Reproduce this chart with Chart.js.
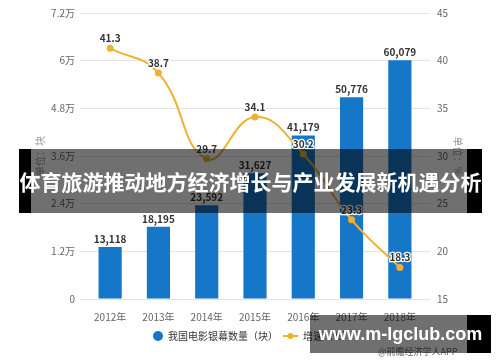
<!DOCTYPE html>
<html>
<head>
<meta charset="utf-8">
<script src="https://cdn.jsdelivr.net/npm/chart.js@4.4.0/dist/chart.umd.min.js"></script>
<style>
html, body { margin: 0; padding: 0; background: #fff; }
#wrap { position: relative; width: 500px; height: 362px; overflow: hidden; }
#chart { position: absolute; left: 0; top: 0; }
.banner { position: absolute; background: rgba(0, 0, 0, 0.56); }
.edge { position: absolute; background: #000; }
#title { left: 19px; top: 149px; width: 463px; height: 64px; color: #fff;
  font: bold 21px "Noto Sans CJK SC", sans-serif; line-height: 64px; text-align: center; white-space: nowrap; }
#site { left: 310px; top: 315px; width: 181px; height: 38px; color: #fff;
  font: bold 18px "Liberation Sans", Arial, sans-serif; line-height: 38px; text-align: center; white-space: nowrap; }
#credit { position: absolute; left: 378px; top: 345px; color: #666;
  font: 9px "Noto Sans CJK SC", sans-serif; white-space: nowrap; }
</style>
</head>
<body>
<div id="wrap">
  <canvas id="chart" width="500" height="362"></canvas>
  <div id="credit">@前瞻经济学人APP</div>
  <div class="edge" style="left:19px;top:149px;width:12px;height:64px"></div>
  <div class="edge" style="left:467px;top:149px;width:15px;height:64px"></div>
  <div class="banner" id="title">体育旅游推动地方经济增长与产业发展新机遇分析</div>
  <div class="edge" style="left:467px;top:315px;width:24px;height:38px"></div>
  <div class="banner" id="site">www.m-lgclub.com</div>
</div>
<script>
const years = ['2012年', '2013年', '2014年', '2015年', '2016年', '2017年', '2018年'];
const screens = [13118, 18195, 23592, 31627, 41179, 50776, 60079];
const growth = [41.3, 38.7, 29.7, 34.1, 30.2, 23.3, 18.3];
const leftTicks = ['0', '1.2万', '2.4万', '3.6万', '4.8万', '6万', '7.2万'];
const rightTicks = ['15', '20', '25', '30', '35', '40', '45'];

const BLUE = '#1677c8';
const GOLD = '#efb134';
const FONT = '"Noto Sans CJK SC", sans-serif';
const GRID = '#e3e3e3';

// value labels above bars and points
const valueLabels = {
    id: 'valueLabels',
    afterDatasetsDraw(chart) {
        const ctx = chart.ctx;
        ctx.save();
        ctx.textAlign = 'center';
        ctx.font = 'bold 10px ' + FONT;
        chart.getDatasetMeta(0).data.forEach((bar, i) => {
            ctx.fillStyle = '#333';
            ctx.textBaseline = 'bottom';
            ctx.fillText(screens[i].toLocaleString('en-US'), bar.x, bar.y - 3);
        });
        chart.getDatasetMeta(1).data.forEach((pt, i) => {
            ctx.textBaseline = 'middle';
            ctx.lineWidth = 2.5;
            ctx.strokeStyle = '#fff';
            ctx.strokeText(growth[i].toFixed(1), pt.x, pt.y - 10);
            ctx.fillStyle = '#333';
            ctx.fillText(growth[i].toFixed(1), pt.x, pt.y - 10);
        });
        ctx.restore();
    }
};

// legend drawn under the axis
const bottomLegend = {
    id: 'bottomLegend',
    afterDraw(chart) {
        const ctx = chart.ctx;
        const y = 336;
        ctx.save();
        ctx.font = '10px ' + FONT;
        ctx.textBaseline = 'middle';
        ctx.textAlign = 'left';
        ctx.fillStyle = BLUE;
        ctx.beginPath();
        ctx.arc(158, y, 5, 0, Math.PI * 2);
        ctx.fill();
        ctx.fillStyle = '#333';
        ctx.fillText(chart.data.datasets[0].label, 168, y);
        ctx.strokeStyle = GOLD;
        ctx.lineWidth = 2;
        ctx.beginPath();
        ctx.moveTo(283, y);
        ctx.lineTo(298, y);
        ctx.stroke();
        ctx.fillStyle = GOLD;
        ctx.beginPath();
        ctx.arc(290.5, y, 3, 0, Math.PI * 2);
        ctx.fill();
        ctx.fillStyle = '#333';
        ctx.fillText(chart.data.datasets[1].label, 303, y);
        ctx.restore();
    }
};

new Chart(document.getElementById('chart'), {
    type: 'bar',
    data: {
        labels: years,
        datasets: [{
            label: '我国电影银幕数量（块）',
            data: screens,
            backgroundColor: BLUE,
            yAxisID: 'y',
            categoryPercentage: 1,
            barPercentage: 0.48,
            order: 2
        }, {
            type: 'line',
            label: '增速（%）',
            data: growth,
            borderColor: GOLD,
            backgroundColor: GOLD,
            borderWidth: 2,
            pointRadius: 3.5,
            pointBackgroundColor: GOLD,
            pointBorderWidth: 0,
            tension: 0.45,
            yAxisID: 'y1',
            order: 1
        }]
    },
    options: {
        responsive: false,
        animation: false,
        layout: { padding: { top: 11, bottom: 41, left: 0, right: 0 } },
        plugins: {
            legend: { display: false },
            tooltip: { enabled: false }
        },
        scales: {
            x: {
                grid: { display: false },
                border: { display: false },
                ticks: { color: '#666', font: { family: FONT, size: 10 }, padding: 4 },
                afterFit: scale => { scale.height = 22; }
            },
            y: {
                position: 'left',
                min: 0,
                max: 72000,
                grid: { color: GRID, tickLength: 6 },
                border: { display: false },
                ticks: {
                    stepSize: 12000,
                    color: '#666',
                    padding: 5,
                    font: { family: FONT, size: 10 },
                    callback: (v, i) => leftTicks[i]
                },
                title: {
                    display: true,
                    text: '单位：块',
                    color: '#999',
                    font: { family: FONT, size: 10 },
                    padding: { top: 34, bottom: 0 }
                },
                afterFit: scale => { scale.width = 86; }
            },
            y1: {
                position: 'right',
                min: 15,
                max: 45,
                grid: { color: GRID, tickLength: 6, drawOnChartArea: false },
                border: { display: false },
                ticks: {
                    stepSize: 5,
                    color: '#666',
                    padding: 7,
                    font: { family: FONT, size: 10 },
                    callback: (v, i) => rightTicks[i]
                },
                title: {
                    display: true,
                    text: '单位：%',
                    color: '#999',
                    font: { family: FONT, size: 10 },
                    padding: { top: 36, bottom: 0 }
                },
                afterFit: scale => { scale.width = 76; }
            }
        }
    },
    plugins: [valueLabels, bottomLegend]
});
</script>
</body>
</html>
